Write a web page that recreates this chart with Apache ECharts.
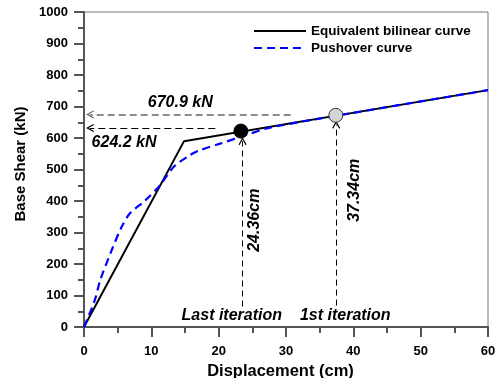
<!DOCTYPE html>
<html>
<head>
<meta charset="utf-8">
<script src="https://cdn.jsdelivr.net/npm/echarts@6/dist/echarts.min.js"></script>
<style>
  html, body { margin: 0; padding: 0; background: #fff; }
  #chart { width: 501px; height: 378px; }
</style>
</head>
<body>
<div id="chart"></div>
<script>
// bilinear idealisation
var bilinearX = [0, 14.86, 60];
var bilinearY = [0, 590, 752];
// pushover curve
var pushX = [0, 1.6, 2.4, 4.1, 5.6, 6.8, 9.1, 11.3, 13.3, 15.7, 17.2, 20.2, 23.2, 27.1, 32.1, 37.3, 45, 60];
var pushY = [0, 85, 148, 243, 318, 360, 402, 450, 508, 545, 561, 582, 603, 630, 651, 670, 698, 752];
// iteration points: [x, y]
var lastIter = [23.3, 622];
var firstIter = [37.4, 672];
// guide arrows (from -> to)
var arrowFirstH = [[30.7, 675], [0.9, 675]];
var arrowLastH = [[19.5, 632], [0.9, 632]];
var arrowLastV = [[23.55, 65], [23.55, 590]];
var arrowFirstV = [[37.45, 68], [37.45, 642]];
// annotations
var noteTexts = ['670.9 kN', '624.2 kN', 'Last iteration', '1st iteration'];
var notePos = [[14.3, 712], [5.95, 585], [21.95, 37], [38.8, 37]];
var vertTexts = ['24.36cm', '37.34cm'];
var vertPos = [[25.4, 339], [40.25, 434]];

var FONT = 'Arial, "Liberation Sans", sans-serif';
var chevron = 'path://M5,0 L10,9 L8.8,9.8 L5,3 L1.2,9.8 L0,9 Z';

function zip(a, b) {
    var r = [];
    for (var i = 0; i < a.length; ++i) r.push([a[i], b[i]]);
    return r;
}

var chart = echarts.init(document.getElementById('chart'), null, {renderer: 'canvas'});

var notes = [];
for (var i = 0; i < noteTexts.length; ++i) {
    notes.push({value: notePos[i], label: {formatter: noteTexts[i]}});
}
for (var j = 0; j < vertTexts.length; ++j) {
    notes.push({value: vertPos[j], label: {formatter: vertTexts[j], rotate: 90}});
}

function arrowLine(seg, color, dash, width) {
    return {
        type: 'lines', coordinateSystem: 'cartesian2d', z: 3,
        symbol: ['none', chevron], symbolSize: [7, 8],
        lineStyle: {color: color, type: dash, width: width, opacity: 1},
        itemStyle: {color: color},
        data: [{coords: seg}],
        silent: true
    };
}

var option = {
    animation: false,
    grid: {left: 84, right: 13, top: 12, bottom: 51, show: true, borderColor: '#777', borderWidth: 1,
        outerBoundsMode: 'none', containLabel: false},
    legend: {
        orient: 'vertical', left: 248, top: 19,
        itemWidth: 52, itemHeight: 14, itemGap: 3,
        itemStyle: {opacity: 0},
        textStyle: {fontFamily: FONT, fontWeight: 'bold', fontSize: 13.5, color: '#000'},
        data: ['Equivalent bilinear curve', 'Pushover curve']
    },
    xAxis: {
        type: 'value', min: 0, max: 60, interval: 10,
        name: 'Displacement (cm)', nameLocation: 'middle', nameGap: 28,
        nameTextStyle: {fontFamily: FONT, fontWeight: 'bold', fontSize: 16.5, color: '#000', padding: [0, 11, 0, 0]},
        axisLine: {onZero: false, lineStyle: {color: '#555', width: 2}},
        axisTick: {length: 10, lineStyle: {color: '#555', width: 2}},
        minorTick: {show: true, splitNumber: 2, length: 6, lineStyle: {color: '#555', width: 2}},
        axisLabel: {margin: 18, fontFamily: FONT, fontWeight: 'bold', fontSize: 13, color: '#000'},
        splitLine: {show: false}
    },
    yAxis: {
        type: 'value', min: 0, max: 1000, interval: 100,
        name: 'Base Shear (kN)', nameLocation: 'middle', nameGap: 51,
        nameTextStyle: {fontFamily: FONT, fontWeight: 'bold', fontSize: 15, color: '#000', padding: [0, 0, 0, 11]},
        axisLine: {show: true, onZero: false, lineStyle: {color: '#555', width: 2}},
        axisTick: {show: true, length: 10, lineStyle: {color: '#555', width: 2}},
        minorTick: {show: true, splitNumber: 2, length: 6, lineStyle: {color: '#555', width: 2}},
        axisLabel: {margin: 16, fontFamily: FONT, fontWeight: 'bold', fontSize: 13, color: '#000',
            formatter: function (v) { return String(v); }},
        splitLine: {show: false}
    },
    series: [
        {
            name: 'Equivalent bilinear curve', type: 'line', z: 4,
            data: zip(bilinearX, bilinearY),
            symbol: 'none', color: '#000',
            lineStyle: {color: '#000', width: 2}
        },
        {
            name: 'Pushover curve', type: 'line', z: 5, smooth: 0.3,
            data: zip(pushX, pushY),
            symbol: 'none', color: '#0000ff',
            lineStyle: {color: '#0000ff', width: 2.2, type: [8, 5]}
        },
        arrowLine(arrowFirstH, '#666', [7, 4], 1.5),
        arrowLine(arrowLastH, '#000', [7, 4], 1),
        arrowLine(arrowLastV, '#000', [6, 4], 1),
        arrowLine(arrowFirstV, '#000', [6, 4], 1),
        {
            type: 'scatter', z: 6, silent: true,
            data: [
                {value: lastIter, symbolSize: 14, itemStyle: {color: '#000', borderColor: '#000', borderWidth: 1, opacity: 1}},
                {value: firstIter, symbolSize: 14, itemStyle: {color: '#d4d4d4', borderColor: '#333', borderWidth: 1, opacity: 1}}
            ]
        },
        {
            type: 'scatter', z: 7, silent: true,
            symbolSize: 1, itemStyle: {color: 'transparent', opacity: 1},
            label: {
                show: true, position: 'inside', opacity: 1,
                textBorderWidth: 0,
                fontFamily: FONT, fontWeight: 'bold', fontStyle: 'italic', fontSize: 16, color: '#000'
            },
            data: notes
        }
    ]
};
chart.setOption(option);
</script>
</body>
</html>
